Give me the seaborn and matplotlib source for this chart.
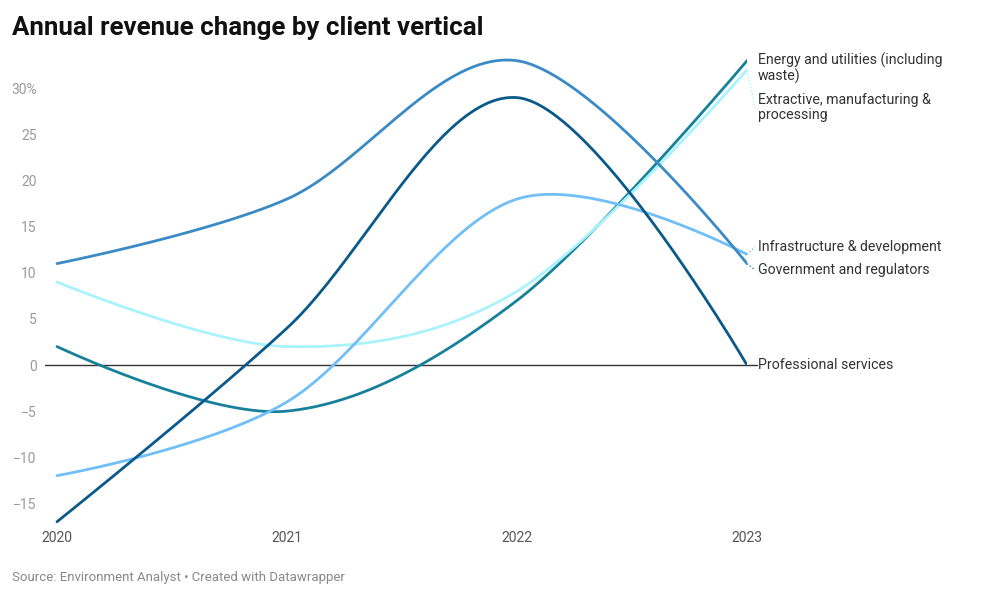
import matplotlib.pyplot as plt
import numpy as np
import pandas as pd
import seaborn as sns

# datos
anios = [2020, 2021, 2022, 2023]
energia = [2, -5, 7, 33]
extractiva = [9, 2, 8, 32]
infraestructura = [-12, -4, 18, 12]
gobierno = [11, 18, 33, 11]
profesionales = [-17, 4, 29, 0]

series = {
    "Energy and utilities (including\nwaste)": (energia, "#17819b"),
    "Extractive, manufacturing &\nprocessing": (extractiva, "#aaf3fd"),
    "Infrastructure & development": (infraestructura, "#71bff7"),
    "Government and regulators": (gobierno, "#3a8ac6"),
    "Professional services": (profesionales, "#0a5a89"),
}

# posición vertical (en unidades de datos) de cada etiqueta a la derecha
pos_etiquetas = {
    "Energy and utilities (including\nwaste)": 32.2,
    "Extractive, manufacturing &\nprocessing": 27.9,
    "Infrastructure & development": 12.8,
    "Government and regulators": 10.3,
    "Professional services": 0,
}
con_conector = ["Extractive, manufacturing &\nprocessing",
                "Infrastructure & development", "Government and regulators"]


def curva_cardinal(x, y, n=80):
    # curva cardinal (tensión 0) al estilo de d3.curveCardinal
    p = np.column_stack([np.asarray(x, float), np.asarray(y, float)])
    k = 1 / 6
    trozos = []
    for i in range(len(p) - 1):
        p0 = p[i - 1] if i > 0 else p[i + 1]
        p1 = p[i]
        p2 = p[i + 1]
        c1 = p1 + k * (p2 - p0) if i > 0 else p1.copy()
        c2 = p2 + k * (p1 - p[i + 2]) if i + 2 < len(p) else p2.copy()
        t = np.linspace(0, 1, n)[:, None]
        b = ((1 - t) ** 3 * p1 + 3 * (1 - t) ** 2 * t * c1
             + 3 * (1 - t) * t ** 2 * c2 + t ** 3 * p2)
        trozos.append(b if i == 0 else b[1:])
    out = np.vstack(trozos)
    return out[:, 0], out[:, 1]


sns.set_theme(style="white")
plt.rcParams['font.family'] = ['Roboto', 'DejaVu Sans']

fig = plt.figure(figsize=(10, 5.97), dpi=100)
ax = fig.add_axes([0.045, 0.1183, 0.702, 0.7877])

ax.axhline(0, color="#333333", lw=1.0, zorder=1)

for nombre, (valores, color) in series.items():
    xs, ys = curva_cardinal(anios, valores)
    df = pd.DataFrame({"anio": xs, "valor": ys})
    sns.lineplot(data=df, x="anio", y="valor", color=color, lw=2.0,
                 sort=False, estimator=None, ax=ax, zorder=3)

    # etiqueta y conector punteado
    y_fin = valores[-1]
    y_lab = pos_etiquetas[nombre]
    if nombre in con_conector:
        ax.plot([anios[-1], anios[-1] + 0.035], [y_fin, y_lab], color=color,
                lw=1.0, ls=(0, (1, 1.5)), clip_on=False)
    elif nombre == "Professional services":
        ax.plot([anios[-1], anios[-1] + 0.045], [0, 0], color="#333333",
                lw=1.0, clip_on=False)
    ax.text(anios[-1] + 0.048, y_lab, nombre, fontsize=10.2, color="#333333",
            va="center", ha="left", linespacing=1.05, clip_on=False)

ax.set_xlim(2020 - 12 / 230, 2023)
ax.set_ylim(-17.5, 33.5)
ax.set_xticks(anios)
ax.set_xticklabels([str(a) for a in anios])
yt = [-15, -10, -5, 0, 5, 10, 15, 20, 25, 30]
ax.set_yticks(yt)
ax.set_yticklabels([f"{v}%" if v == 30 else str(v).replace("-", "\u2212") for v in yt])
ax.tick_params(axis="y", length=0, pad=6, labelsize=10, labelcolor="#9a9a9a")
ax.tick_params(axis="x", length=0, pad=3, labelsize=10, labelcolor="#555555")
ax.set_xlabel("")
ax.set_ylabel("")
for s in ax.spines.values():
    s.set_visible(False)
ax.grid(False)

fig.text(0.012, 0.953, "Annual revenue change by client vertical", fontsize=18.6,
         fontweight="bold", color="#111111", va="center", ha="left")
fig.text(0.012, 0.033, "Source: Environment Analyst \u2022 Created with Datawrapper",
         fontsize=9.5, color="#888888", va="center", ha="left")

fig.savefig("out.png", dpi=100, facecolor="white")
